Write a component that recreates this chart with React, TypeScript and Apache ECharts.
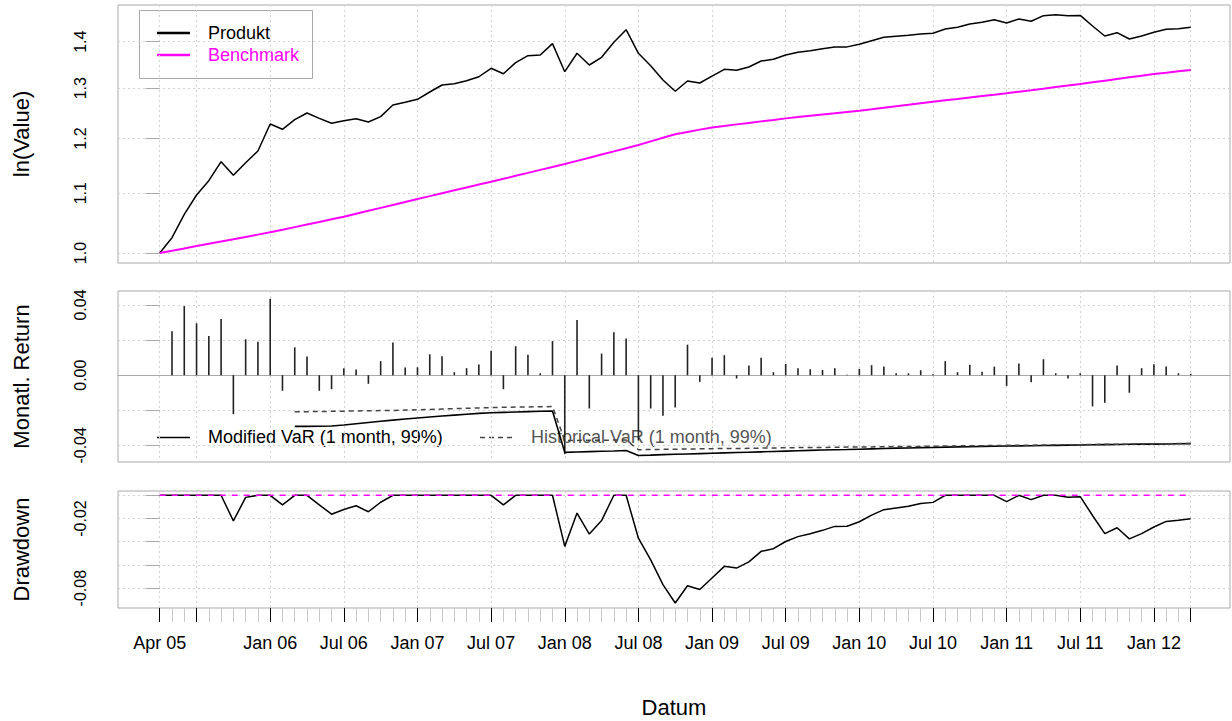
import React, { useEffect, useRef } from "react";
import * as echarts from "echarts";

// ---- categories / ticks ----
const monthCount = 85; // Apr 2005 .. Apr 2012
const monthIndex: number[] = Array.from({ length: monthCount }, (_, i) => i);
const majorTickIdx = [0, 3, 9, 15, 21, 27, 33, 39, 45, 51, 57, 63, 69, 75, 81, 84];
const tickLabelIdx = [0, 9, 15, 21, 27, 33, 39, 45, 51, 57, 63, 69, 75, 81];
const tickLabels = ["Apr 05", "Jan 06", "Jul 06", "Jan 07", "Jul 07", "Jan 08", "Jul 08", "Jan 09", "Jul 09", "Jan 10", "Jul 10", "Jan 11", "Jul 11", "Jan 12"];
const valueTicks = [1.0, 1.1, 1.2, 1.3, 1.4];
const returnTicks = [-0.04, -0.02, 0, 0.02, 0.04];
const returnLabelTicks = [-0.04, 0, 0.04];
const ddTicks = [-0.08, -0.06, -0.04, -0.02, 0];
const ddLabelTicks = [-0.08, -0.02];

// ---- series values ----
const produkt = [
  1.0, 1.0247, 1.0636, 1.0968, 1.122, 1.1565, 1.1317, 1.1547, 1.1764, 1.228,
  1.2177, 1.2365, 1.2497, 1.2391, 1.2294, 1.2345, 1.2385, 1.232, 1.2425, 1.2658,
  1.2712, 1.2773, 1.2922, 1.3067, 1.3095, 1.3157, 1.324, 1.342, 1.3304, 1.354,
  1.3691, 1.3705, 1.3956, 1.3347, 1.3744, 1.349, 1.3656, 1.3987, 1.427, 1.3744,
  1.3475, 1.3172, 1.2937, 1.3151, 1.3109, 1.3255, 1.3398, 1.3376, 1.3447, 1.3576,
  1.3613, 1.3707, 1.3766, 1.3801, 1.3845, 1.3882, 1.3885, 1.3942, 1.4023, 1.4099,
  1.4121, 1.4143, 1.4173, 1.4188, 1.4287, 1.4325, 1.44, 1.4439, 1.45, 1.4423,
  1.4515, 1.4462, 1.4592, 1.4616, 1.4592, 1.4599, 1.4354, 1.4128, 1.4203, 1.406,
  1.4128, 1.4211, 1.4279, 1.4293, 1.4325,
];
const benchmark = [
  1.0, 1.0037, 1.0073, 1.0111, 1.0148, 1.0185, 1.0222, 1.026, 1.0297, 1.0336,
  1.0378, 1.0421, 1.0464, 1.0507, 1.0552, 1.0595, 1.0645, 1.0695, 1.0745, 1.0796,
  1.0847, 1.0898, 1.0948, 1.0999, 1.105, 1.1099, 1.1151, 1.1202, 1.1255, 1.1308,
  1.1361, 1.1415, 1.1468, 1.1522, 1.158, 1.1639, 1.1698, 1.1757, 1.1816, 1.1877,
  1.1945, 1.2013, 1.208, 1.2126, 1.2171, 1.2214, 1.2243, 1.2273, 1.2302, 1.2332,
  1.2361, 1.2391, 1.2416, 1.2442, 1.2467, 1.2492, 1.2518, 1.2543, 1.2573, 1.2604,
  1.2634, 1.2663, 1.2693, 1.2724, 1.2752, 1.278, 1.2809, 1.2838, 1.2867, 1.2896,
  1.2928, 1.2959, 1.2991, 1.3024, 1.3055, 1.3088, 1.3123, 1.3158, 1.3193, 1.3228,
  1.3263, 1.3298, 1.3326, 1.3355, 1.3383,
];
const monthlyReturn = [
  null, 0.025, 0.0394, 0.0296, 0.0224, 0.032, -0.0222, 0.0205, 0.019, 0.0436,
  -0.0089, 0.0159, 0.0106, -0.0089, -0.008, 0.004, 0.0032, -0.0049, 0.008, 0.0186,
  0.0044, 0.0045, 0.0119, 0.0108, 0.0017, 0.004, 0.0061, 0.014, -0.008, 0.0165,
  0.0116, 0.0011, 0.0195, -0.045, 0.0315, -0.019, 0.0123, 0.0245, 0.0209, -0.0373,
  -0.019, -0.0231, -0.0184, 0.0174, -0.0038, 0.01, 0.0114, -0.0019, 0.0055, 0.01,
  0.0017, 0.0064, 0.004, 0.0034, 0.003, 0.004, 0.0002, 0.0036, 0.0057, 0.0049,
  0.0011, 0.0011, 0.0028, 0.0006, 0.008, 0.0017, 0.0059, 0.0019, 0.0049, -0.0061,
  0.0066, -0.004, 0.0091, 0.0011, -0.0019, 0.0011, -0.0178, -0.0157, 0.0055, -0.01,
  0.004, 0.0063, 0.0049, 0.0011, 0.0008,
];
const modifiedVaR = [
  null, null, null, null, null, null, null, null, null, null,
  null, -0.0292, -0.0292, -0.0291, -0.029, -0.0284, -0.0277, -0.027, -0.0263, -0.0256,
  -0.025, -0.0244, -0.0238, -0.0233, -0.0228, -0.0223, -0.0218, -0.0214, -0.0212, -0.021,
  -0.0208, -0.0206, -0.0204, -0.044, -0.0438, -0.0436, -0.0434, -0.0432, -0.0429, -0.0458,
  -0.0456, -0.0453, -0.0451, -0.0449, -0.0447, -0.0445, -0.0443, -0.0441, -0.0439, -0.0437,
  -0.0435, -0.0433, -0.0431, -0.0429, -0.0427, -0.0425, -0.0424, -0.0422, -0.042, -0.0418,
  -0.0416, -0.0415, -0.0413, -0.0412, -0.041, -0.0409, -0.0408, -0.0406, -0.0405, -0.0404,
  -0.0403, -0.0402, -0.0401, -0.04, -0.0399, -0.0398, -0.0397, -0.0396, -0.0395, -0.0394,
  -0.0393, -0.0393, -0.0392, -0.0391, -0.039,
];
const historicalVaR = [
  null, null, null, null, null, null, null, null, null, null,
  null, -0.0209, -0.0208, -0.0207, -0.0206, -0.0205, -0.0204, -0.0203, -0.0202, -0.0201,
  -0.0199, -0.0197, -0.0195, -0.0193, -0.0191, -0.0189, -0.0187, -0.0185, -0.0183, -0.0182,
  -0.0181, -0.018, -0.0179, -0.0372, -0.0372, -0.0371, -0.0371, -0.037, -0.037, -0.0425,
  -0.0424, -0.0423, -0.0422, -0.0421, -0.042, -0.0419, -0.0418, -0.0418, -0.0417, -0.0416,
  -0.0415, -0.0414, -0.0413, -0.0413, -0.0412, -0.0411, -0.041, -0.041, -0.0409, -0.0408,
  -0.0407, -0.0406, -0.0406, -0.0405, -0.0404, -0.0403, -0.0403, -0.0402, -0.0401, -0.04,
  -0.04, -0.0399, -0.0398, -0.0397, -0.0397, -0.0396, -0.0395, -0.0394, -0.0394, -0.0393,
  -0.0392, -0.0392, -0.0391, -0.039, -0.039,
];
const drawdown = [
  0, 0, 0, 0, 0, 0, -0.0221, -0.0018, 0, 0,
  -0.0083, 0, 0, -0.0082, -0.0163, -0.0122, -0.009, -0.0142, -0.006, 0,
  0, 0, 0, 0, 0, 0, 0, 0, -0.0082, 0,
  0, 0, 0, -0.044, -0.0153, -0.0334, -0.0218, 0, 0, -0.037,
  -0.0557, -0.077, -0.0928, -0.0779, -0.0812, -0.0712, -0.0612, -0.0627, -0.0574, -0.0483,
  -0.046, -0.0398, -0.0356, -0.0331, -0.0302, -0.0268, -0.0267, -0.0228, -0.0171, -0.0124,
  -0.0109, -0.0095, -0.007, -0.0061, 0, 0, 0, 0, 0, -0.0055,
  0, -0.0037, 0, 0, -0.0017, -0.0012, -0.0174, -0.033, -0.028, -0.0375,
  -0.033, -0.0273, -0.0225, -0.0215, -0.0202,
];
const benchmarkDrawdown = [
  0, 0, 0, 0, 0, 0, 0, 0, 0, 0,
  0, 0, 0, 0, 0, 0, 0, 0, 0, 0,
  0, 0, 0, 0, 0, 0, 0, 0, 0, 0,
  0, 0, 0, 0, 0, 0, 0, 0, 0, 0,
  0, 0, 0, 0, 0, 0, 0, 0, 0, 0,
  0, 0, 0, 0, 0, 0, 0, 0, 0, 0,
  0, 0, 0, 0, 0, 0, 0, 0, 0, 0,
  0, 0, 0, 0, 0, 0, 0, 0, 0, 0,
  0, 0, 0, 0, 0,
];

const FONT = "'Liberation Sans', Arial, Helvetica, sans-serif";
const GRID_LEFT = 118;
const GRID_W = 1112;
const X_MIN = -3.4;
const X_MAX = 87.2;
const GRID_COLOR = "#D3D3D3";
const BOX_COLOR = "#A9A9A9";

const pairs = (arr: (number | null)[], f?: (v: number) => number) =>
  arr.map((v, i) => [i, v === null ? null : f ? f(v) : v]);

function buildOption(): any {
  const baseX = (gridIndex: number) => ({
    gridIndex,
    type: "value",
    min: X_MIN,
    max: X_MAX,
    position: "bottom",
    axisLine: { show: false, onZero: false },
    axisTick: { show: false, customValues: majorTickIdx },
    axisLabel: { show: false },
    splitLine: { show: true, lineStyle: { color: GRID_COLOR, type: [2, 3], width: 1 } },
  });
  const yCommon = {
    type: "value",
    axisLine: { show: false },
    axisTick: { show: true, length: 14, lineStyle: { color: BOX_COLOR } },
    splitLine: { show: true, lineStyle: { color: GRID_COLOR, type: [2, 3], width: 1 } },
    nameLocation: "middle",
    nameRotate: 90,
    nameGap: 86,
    nameTextStyle: { fontFamily: FONT, fontSize: 22, color: "#000" },
  };
  const yLabel = { rotate: 90, fontFamily: FONT, fontSize: 16, color: "#000", margin: 30 };
  const lnTickVals = valueTicks.map((v) => Math.log(v));

  return {
    animation: false,
    backgroundColor: "#fff",
    grid: [
      { left: GRID_LEFT, top: 5, width: GRID_W, height: 258, show: true, borderColor: BOX_COLOR, borderWidth: 1 },
      { left: GRID_LEFT, top: 291, width: GRID_W, height: 171, show: true, borderColor: BOX_COLOR, borderWidth: 1 },
      { left: GRID_LEFT, top: 491, width: GRID_W, height: 117, show: true, borderColor: BOX_COLOR, borderWidth: 1 },
    ],
    xAxis: [
      baseX(0),
      { ...baseX(1), axisLine: { show: true, onZero: true, lineStyle: { color: BOX_COLOR, width: 1 } } },
      {
        ...baseX(2),
        axisTick: { show: true, customValues: majorTickIdx, length: 14, lineStyle: { color: "#000", width: 1 } },
        axisLabel: {
          show: true,
          customValues: tickLabelIdx,
          formatter: (v: number) => tickLabels[tickLabelIdx.indexOf(Math.round(v))] ?? "",
          fontFamily: FONT,
          fontSize: 18,
          color: "#000",
          margin: 26,
        },
        name: "Datum",
        nameLocation: "middle",
        nameGap: 88,
        nameTextStyle: { fontFamily: FONT, fontSize: 22, color: "#000" },
        z: 3,
      },
      {
        gridIndex: 2,
        type: "value",
        min: X_MIN,
        max: X_MAX,
        position: "bottom",
        axisLine: { show: false, onZero: false },
        axisTick: { show: true, customValues: monthIndex, length: 14, lineStyle: { color: "#C8C8C8", width: 1 } },
        axisLabel: { show: false },
        splitLine: { show: false },
        z: 1,
      },
    ],
    yAxis: [
      {
        ...yCommon,
        gridIndex: 0,
        min: -0.0159,
        max: 0.3949,
        name: "ln(Value)",
        axisTick: { ...yCommon.axisTick, customValues: lnTickVals },
        axisLabel: { ...yLabel, customValues: lnTickVals, formatter: (v: number) => Math.exp(v).toFixed(1) },
      },
      {
        ...yCommon,
        gridIndex: 1,
        min: -0.0495,
        max: 0.048,
        name: "Monatl. Return",
        axisTick: { ...yCommon.axisTick, customValues: returnTicks },
        axisLabel: { ...yLabel, customValues: returnLabelTicks, formatter: (v: number) => v.toFixed(2) },
      },
      {
        ...yCommon,
        gridIndex: 2,
        min: -0.0971,
        max: 0.0037,
        name: "Drawdown",
        axisTick: { ...yCommon.axisTick, customValues: ddTicks },
        axisLabel: { ...yLabel, customValues: ddLabelTicks, formatter: (v: number) => v.toFixed(2) },
      },
    ],
    series: [
      {
        name: "Produkt",
        type: "line",
        xAxisIndex: 0,
        yAxisIndex: 0,
        data: pairs(produkt, Math.log),
        symbol: "none",
        lineStyle: { color: "#000", width: 1.5 },
        z: 3,
      },
      {
        name: "Benchmark",
        type: "line",
        xAxisIndex: 0,
        yAxisIndex: 0,
        data: pairs(benchmark, Math.log),
        symbol: "none",
        lineStyle: { color: "#FF00FF", width: 2 },
        z: 3,
      },
      {
        name: "Monatl. Return",
        type: "bar",
        xAxisIndex: 1,
        yAxisIndex: 1,
        data: pairs(monthlyReturn),
        barWidth: 1.6,
        itemStyle: { color: "#222" },
        z: 3,
      },
      {
        name: "Modified VaR (1 month, 99%)",
        type: "line",
        xAxisIndex: 1,
        yAxisIndex: 1,
        data: pairs(modifiedVaR),
        symbol: "none",
        connectNulls: false,
        lineStyle: { color: "#000", width: 1.6 },
        z: 4,
      },
      {
        name: "Historical VaR (1 month, 99%)",
        type: "line",
        xAxisIndex: 1,
        yAxisIndex: 1,
        data: pairs(historicalVaR),
        symbol: "none",
        connectNulls: false,
        lineStyle: { color: "#444", width: 1.5, type: [5, 4] },
        z: 4,
      },
      {
        name: "Drawdown Produkt",
        type: "line",
        xAxisIndex: 2,
        yAxisIndex: 2,
        data: pairs(drawdown),
        symbol: "none",
        lineStyle: { color: "#000", width: 1.5 },
        z: 3,
      },
      {
        name: "Drawdown Benchmark",
        type: "line",
        xAxisIndex: 2,
        yAxisIndex: 2,
        data: pairs(benchmarkDrawdown),
        symbol: "none",
        lineStyle: { color: "#FF00FF", width: 1.5, type: [6, 6] },
        z: 4,
      },
    ],
    graphic: [
      {
        type: "group",
        z: 100,
        children: [
          { type: "rect", shape: { x: 139.5, y: 10.5, width: 173, height: 68 }, style: { fill: "#fff", stroke: BOX_COLOR, lineWidth: 1 } },
          { type: "line", shape: { x1: 157, y1: 33, x2: 190, y2: 33 }, style: { stroke: "#000", lineWidth: 2.5 } },
          { type: "line", shape: { x1: 157, y1: 55, x2: 190, y2: 55 }, style: { stroke: "#FF00FF", lineWidth: 2.5 } },
          { type: "text", x: 208, y: 33, style: { text: "Produkt", fill: "#000", font: `18px ${FONT}`, verticalAlign: "middle" } },
          { type: "text", x: 208, y: 55, style: { text: "Benchmark", fill: "#FF00FF", font: `18px ${FONT}`, verticalAlign: "middle" } },
        ],
      },
      {
        type: "group",
        z: 100,
        children: [
          { type: "line", shape: { x1: 157, y1: 437.5, x2: 190, y2: 437.5 }, style: { stroke: "#000", lineWidth: 1.5 } },
          { type: "text", x: 208, y: 437, style: { text: "Modified VaR (1 month, 99%)", fill: "#000", font: `18px ${FONT}`, verticalAlign: "middle" } },
          { type: "line", shape: { x1: 480, y1: 437.5, x2: 513, y2: 437.5 }, style: { stroke: "#444", lineWidth: 1.5, lineDash: [5, 4] } },
          { type: "text", x: 531, y: 437, style: { text: "Historical VaR (1 month, 99%)", fill: "#555", font: `18px ${FONT}`, verticalAlign: "middle" } },
        ],
      },
    ],
  };
}

export default function App() {
  const ref = useRef<HTMLDivElement>(null);
  useEffect(() => {
    if (!ref.current) return;
    const chart = echarts.init(ref.current, undefined, { renderer: "svg" });
    chart.setOption(buildOption());
    return () => chart.dispose();
  }, []);
  return (
    <div
      ref={ref}
      style={{ position: "fixed", left: 0, top: 0, width: 1232, height: 721, background: "#fff" }}
    />
  );
}
